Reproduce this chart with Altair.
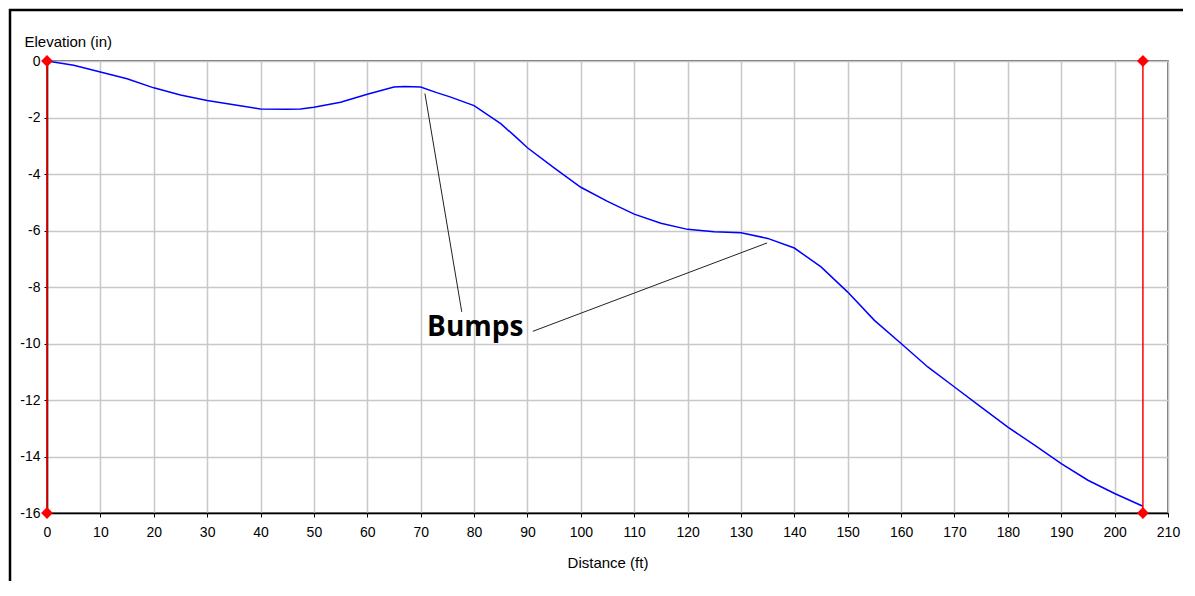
import altair as alt
import pandas as pd

# Profile line (distance ft, elevation in)
dist = [0, 5, 10, 15, 20, 25, 30, 35, 40, 45, 47.5, 50, 55, 60, 65, 67, 70, 73, 75.5,
        80, 85, 88, 90, 95, 100, 105, 110, 115, 120, 125, 130, 135, 140, 145, 150,
        155, 160, 165, 170, 175, 180, 185, 190, 195, 200, 205.3]
elev = [0, -0.15, -0.39, -0.63, -0.95, -1.2, -1.4, -1.55, -1.7, -1.71, -1.7, -1.64,
        -1.46, -1.18, -0.92, -0.9, -0.92, -1.12, -1.27, -1.58, -2.22, -2.72, -3.07,
        -3.78, -4.47, -4.97, -5.42, -5.74, -5.96, -6.04, -6.08, -6.28, -6.62, -7.29,
        -8.18, -9.18, -10.0, -10.83, -11.54, -12.25, -12.96, -13.6, -14.25, -14.84,
        -15.31, -15.76]

# Red boundary markers
bound_x = [0, 205.3]
bound_top = [0, 0]
bound_bottom = [-16, -16]

# Annotation
label_text = ["Bumps"]
label_x = [71.2]
label_y = [-9.75]
pointer_x = [77.7, 91.0]
pointer_y = [-8.88, -9.57]
pointer_x2 = [70.8, 134.9]
pointer_y2 = [-1.15, -6.44]

profile = pd.DataFrame({"d": dist, "e": elev})
bounds = pd.DataFrame({"x": bound_x, "top": bound_top, "bottom": bound_bottom})
corners = pd.DataFrame({"x": bound_x + bound_x, "y": bound_top + bound_bottom})
pointers = pd.DataFrame({"x": pointer_x, "y": pointer_y, "x2": pointer_x2, "y2": pointer_y2})
labels = pd.DataFrame({"t": label_text, "x": label_x, "y": label_y})

xscale = alt.Scale(domain=[0, 210], nice=False, zero=False)
yscale = alt.Scale(domain=[-16, 0], nice=False, zero=False)

grid_x = {"condition": {"test": "datum.value % 10 == 0", "value": 1}, "value": 0}
grid_y = {"condition": {"test": "datum.value % 2 == 0", "value": 1}, "value": 0}

xaxis = alt.Axis(
    title="Distance (ft)",
    values=list(range(0, 211, 5)),
    labelExpr="datum.value % 10 == 0 ? '' + datum.value : ''",
    labelOverlap=False,
    labelFlush=False,
    tickSize=4,
    tickColor="#000",
    domainColor="#000",
    domainWidth=1.5,
    gridColor="#c8c8c8",
    gridWidth=1.5,
    gridOpacity=grid_x,
    labelPadding=8,
    titlePadding=16,
)
yaxis = alt.Axis(
    title="Elevation (in)",
    values=list(range(-16, 1)),
    labelExpr="datum.value % 2 == 0 ? '' + datum.value : ''",
    labelOverlap=False,
    labelFlush=False,
    tickSize=3,
    tickColor="#000",
    domainColor="#000",
    domainWidth=1.5,
    gridColor="#c8c8c8",
    gridWidth=1.5,
    gridOpacity=grid_y,
    labelPadding=4,
    titleAngle=0,
    titleAlign="left",
    titleBaseline="alphabetic",
    titleX=-23,
    titleY=-15,
)

line = alt.Chart(profile).mark_line(color="#0000ff", strokeWidth=1.5).encode(
    x=alt.X("d:Q", scale=xscale, axis=xaxis),
    y=alt.Y("e:Q", scale=yscale, axis=yaxis),
)

ptr = alt.Chart(pointers).mark_rule(color="#222222", strokeWidth=1).encode(
    x="x:Q", y="y:Q", x2="x2:Q", y2="y2:Q"
)

txt = alt.Chart(labels).mark_text(
    font="Open Sans", fontSize=28, fontWeight="bold", align="left",
    baseline="alphabetic", color="#000"
).encode(x="x:Q", y="y:Q", text="t:N")

red_rules = alt.Chart(bounds).mark_rule(color="#ff0000", strokeWidth=1.5).encode(
    x="x:Q", y="top:Q", y2="bottom:Q"
)

red_pts = alt.Chart(corners).mark_point(
    shape="diamond", filled=True, color="#ff0000", size=140, opacity=1
).encode(x="x:Q", y="y:Q")

frame_data = alt.Data(values=[{"k": 1}])
frame_top = alt.Chart(frame_data).mark_rule(color="#000", strokeWidth=2.5).encode(
    x=alt.value(-38), x2=alt.value(1140), y=alt.value(-51)
)
frame_left = alt.Chart(frame_data).mark_rule(color="#000", strokeWidth=2.5).encode(
    x=alt.value(-37), y=alt.value(-52), y2=alt.value(530)
)

chart = alt.layer(
    line, ptr, txt, red_rules, red_pts, frame_top, frame_left
).properties(
    width=1121,
    height=452,
    autosize=alt.AutoSizeParams(type="none"),
    padding={"left": 39, "top": 53, "right": 15, "bottom": 68},
).configure_view(
    stroke="#404040", strokeWidth=1.5
).configure_axis(
    labelFont="Liberation Sans", labelFontSize=14, labelColor="#000",
    titleFont="Liberation Sans", titleFontSize=15, titleColor="#000",
    titleFontWeight="normal",
)

chart.save("out.html", embed_options={"renderer": "svg", "actions": False})
